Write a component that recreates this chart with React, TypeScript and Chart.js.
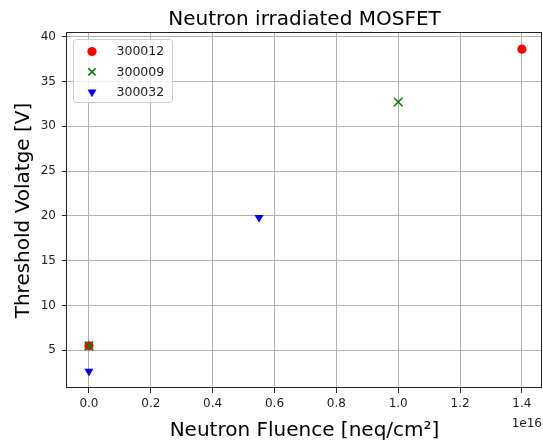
import React, { useEffect, useRef } from 'react';
import { Chart, registerables } from 'chart.js';

Chart.register(...registerables);

const chartTitle = 'Neutron irradiated MOSFET';
const xAxisLabel = 'Neutron Fluence [neq/cm²]';
const yAxisLabel = 'Threshold Volatge [V]';
const xOffsetText = '1e16';
const xScaleFactor = 1e16;

const seriesNames = ['300012', '300009', '300032'];
const fluence300012 = [0, 1.4e16];
const vth300012 = [5.5, 38.6];
const fluence300009 = [0, 1.0e16];
const vth300009 = [5.5, 32.7];
const fluence300032 = [0, 0.55e16];
const vth300032 = [2.65, 19.8];

const xTickValues = [0, 0.2, 0.4, 0.6, 0.8, 1.0, 1.2, 1.4];
const yTickValues = [5, 10, 15, 20, 25, 30, 35, 40];
const xRange = [-0.071, 1.465];
const yRange = [0.8, 40.4];

const FONT = "'DejaVu Sans', sans-serif";

type MarkerSpec = { style: string; color: string; radius: number; rotation: number; lineWidth: number };

function drawMarker(ctx: CanvasRenderingContext2D, m: MarkerSpec, x: number, y: number) {
  ctx.save();
  ctx.translate(x, y);
  ctx.rotate((m.rotation * Math.PI) / 180);
  ctx.fillStyle = m.color;
  ctx.strokeStyle = m.color;
  ctx.lineWidth = m.lineWidth;
  ctx.beginPath();
  if (m.style === 'circle') {
    ctx.arc(0, 0, m.radius, 0, Math.PI * 2);
    ctx.fill();
  } else if (m.style === 'crossRot') {
    const d = m.radius * Math.SQRT1_2;
    ctx.moveTo(-d, -d);
    ctx.lineTo(d, d);
    ctx.moveTo(d, -d);
    ctx.lineTo(-d, d);
    ctx.stroke();
  } else if (m.style === 'triangle') {
    const r = m.radius;
    for (let i = 0; i < 3; i++) {
      const a = (i * 2 * Math.PI) / 3;
      const px = Math.sin(a) * r;
      const py = -Math.cos(a) * r;
      if (i === 0) ctx.moveTo(px, py);
      else ctx.lineTo(px, py);
    }
    ctx.closePath();
    ctx.fill();
  }
  ctx.restore();
}

const decorPlugin = {
  id: 'decor',
  afterDatasetsDraw(chart: any) {
    const { ctx, chartArea } = chart;
    ctx.save();
    ctx.strokeStyle = '#222';
    ctx.lineWidth = 1;
    ctx.strokeRect(chartArea.left - 0.5, chartArea.top - 0.5, chartArea.right - chartArea.left, chartArea.bottom - chartArea.top);
    ctx.restore();
  },
  afterDraw(chart: any) {
    const { ctx, chartArea } = chart;
    ctx.save();
    // Title
    ctx.fillStyle = '#000';
    ctx.font = `20px ${FONT}`;
    ctx.textAlign = 'center';
    ctx.textBaseline = 'alphabetic';
    ctx.fillText(chartTitle, (chartArea.left + chartArea.right) / 2, 25);
    // Offset text
    ctx.font = `12px ${FONT}`;
    ctx.textAlign = 'right';
    ctx.textBaseline = 'middle';
    ctx.fillStyle = '#222';
    ctx.fillText(xOffsetText, chartArea.right, 424);
    // Legend
    const bx = chartArea.left + 6.5;
    const by = chartArea.top + 6.5;
    const bw = 99;
    const bh = 63;
    const r = 3;
    ctx.beginPath();
    ctx.moveTo(bx + r, by);
    ctx.lineTo(bx + bw - r, by);
    ctx.quadraticCurveTo(bx + bw, by, bx + bw, by + r);
    ctx.lineTo(bx + bw, by + bh - r);
    ctx.quadraticCurveTo(bx + bw, by + bh, bx + bw - r, by + bh);
    ctx.lineTo(bx + r, by + bh);
    ctx.quadraticCurveTo(bx, by + bh, bx, by + bh - r);
    ctx.lineTo(bx, by + r);
    ctx.quadraticCurveTo(bx, by, bx + r, by);
    ctx.closePath();
    ctx.fillStyle = 'rgba(255,255,255,0.8)';
    ctx.fill();
    ctx.strokeStyle = '#cccccc';
    ctx.lineWidth = 1;
    ctx.stroke();
    ctx.font = `12.5px ${FONT}`;
    ctx.textAlign = 'left';
    ctx.textBaseline = 'middle';
    chart.data.datasets.forEach((ds: any, i: number) => {
      const y = by + 12 + i * 20.3;
      drawMarker(
        ctx,
        {
          style: ds.pointStyle,
          color: ds.pointStyle === 'crossRot' ? ds.borderColor : ds.backgroundColor,
          radius: ds.pointStyle === 'crossRot' ? ds.pointRadius * 0.85 : ds.pointRadius,
          rotation: ds.pointRotation || 0,
          lineWidth: ds.borderWidth || 1,
        },
        bx + 18.5,
        y
      );
      ctx.fillStyle = '#222';
      ctx.fillText(ds.label, bx + 43, y + 0.5);
    });
    ctx.restore();
  },
};

function toPoints(xs: number[], ys: number[]) {
  return xs.map((x, i) => ({ x, y: ys[i] }));
}

export default function App() {
  const canvasRef = useRef<HTMLCanvasElement | null>(null);

  useEffect(() => {
    document.body.style.margin = '0';
    const canvas = canvasRef.current;
    if (!canvas) return;
    const chart = new Chart(canvas, {
      type: 'scatter',
      data: {
        datasets: [
          {
            label: seriesNames[0],
            data: toPoints(fluence300012, vth300012),
            pointStyle: 'circle',
            pointRadius: 4.6,
            backgroundColor: '#ff0000',
            borderColor: '#ff0000',
            borderWidth: 0,
            order: 3,
          },
          {
            label: seriesNames[1],
            data: toPoints(fluence300009, vth300009),
            pointStyle: 'crossRot',
            pointRadius: 6,
            backgroundColor: '#008000',
            borderColor: '#008000',
            borderWidth: 1.6,
            order: 2,
          },
          {
            label: seriesNames[2],
            data: toPoints(fluence300032, vth300032),
            pointStyle: 'triangle',
            pointRotation: 180,
            pointRadius: 5.2,
            backgroundColor: '#0000ff',
            borderColor: '#0000ff',
            borderWidth: 0,
            order: 1,
          },
        ] as any,
      },
      options: {
        responsive: false,
        animation: false,
        events: [],
        layout: { autoPadding: false, padding: { top: 33, left: 0, right: 1, bottom: 0 } },
        plugins: {
          legend: { display: false },
          tooltip: { enabled: false },
          title: { display: false },
        },
        scales: {
          x: {
            type: 'linear',
            min: xRange[0] * xScaleFactor,
            max: xRange[1] * xScaleFactor,
            afterBuildTicks: (axis: any) => {
              axis.ticks = xTickValues.map((v) => ({ value: v * xScaleFactor }));
            },
            afterFit: (scale: any) => {
              scale.height = 55;
              scale.paddingLeft = 0;
              scale.paddingRight = 0;
            },
            border: { display: false },
            grid: {
              color: '#b0b0b0',
              lineWidth: 1,
              tickColor: '#222',
              tickLength: 5,
            },
            ticks: {
              color: '#222',
              font: { family: FONT, size: 12 },
              padding: 4,
              maxRotation: 0,
              autoSkip: false,
              callback: (value: any) => (Number(value) / xScaleFactor).toFixed(1),
            },
            title: {
              display: true,
              text: xAxisLabel,
              color: '#000',
              font: { family: FONT, size: 20 },
              padding: { top: 0, bottom: 0.6 },
            },
          },
          y: {
            type: 'linear',
            min: yRange[0],
            max: yRange[1],
            afterBuildTicks: (axis: any) => {
              axis.ticks = yTickValues.map((v) => ({ value: v }));
            },
            afterFit: (scale: any) => {
              scale.width = 67;
              scale.paddingTop = 0;
              scale.paddingBottom = 0;
            },
            border: { display: false },
            grid: {
              color: '#b0b0b0',
              lineWidth: 1,
              tickColor: '#222',
              tickLength: 5,
            },
            ticks: {
              color: '#222',
              font: { family: FONT, size: 12 },
              padding: 6,
              autoSkip: false,
              callback: (value: any) => String(value),
            },
            title: {
              display: true,
              text: yAxisLabel,
              color: '#000',
              font: { family: FONT, size: 20 },
              padding: { top: 11.5, bottom: 0 },
            },
          },
        },
      },
      plugins: [decorPlugin],
    });
    return () => {
      chart.destroy();
    };
  }, []);

  return (
    <div style={{ position: 'absolute', left: 0, top: 0, width: 543, height: 443, background: '#fff' }}>
      <canvas ref={canvasRef} width={543} height={443} style={{ display: 'block' }} />
    </div>
  );
}
